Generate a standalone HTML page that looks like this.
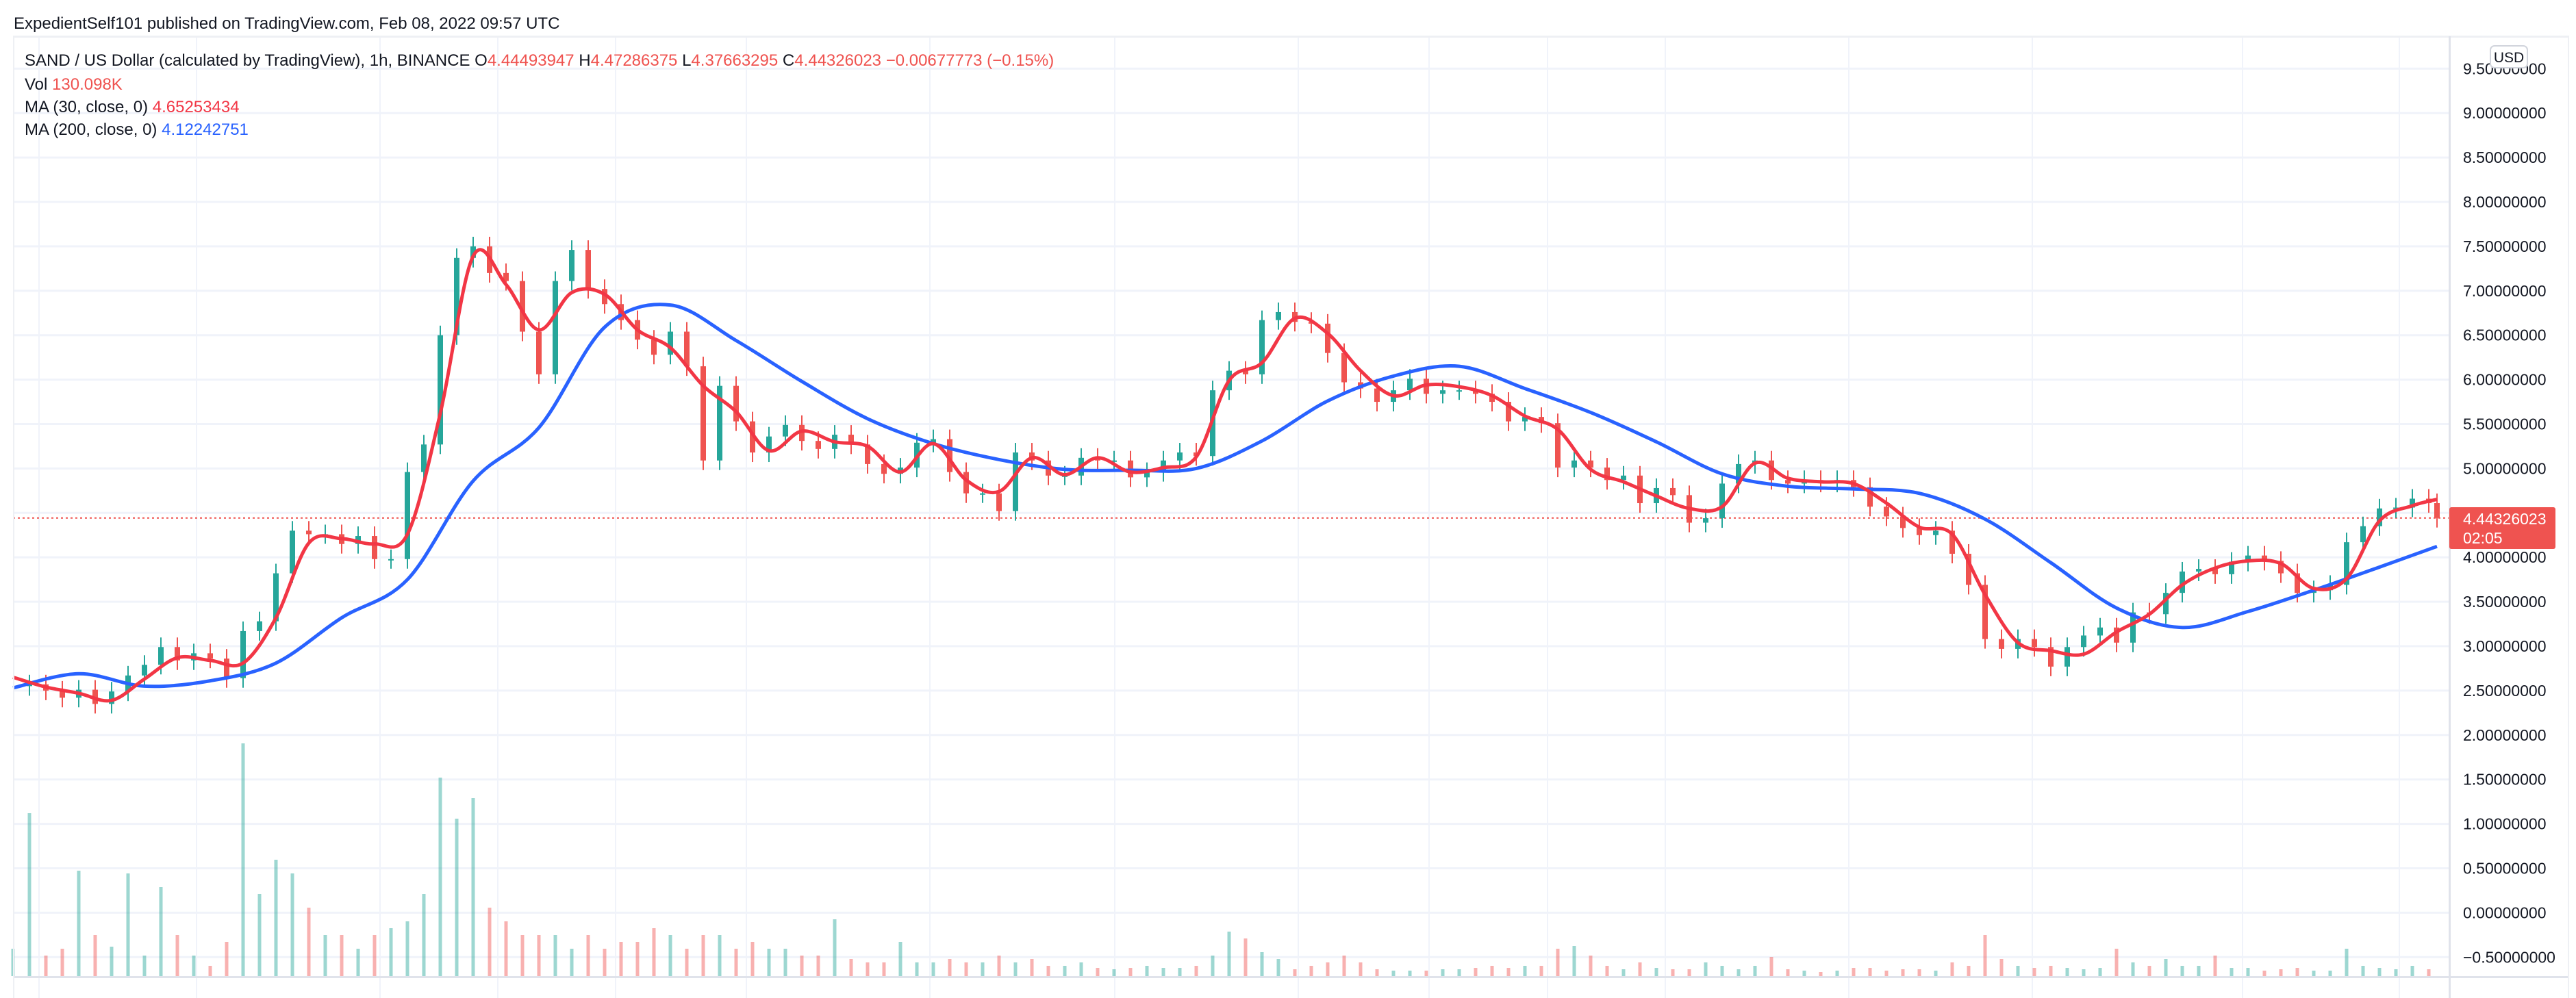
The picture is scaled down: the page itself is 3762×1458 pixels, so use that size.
<!DOCTYPE html>
<html><head><meta charset="utf-8"><style>
html,body{margin:0;padding:0;background:#fff;}
svg{display:block;font-family:"Liberation Sans",sans-serif;}
</style></head><body>
<svg id="chart" width="3762" height="1458" viewBox="0 0 3762 1458" xmlns="http://www.w3.org/2000/svg">
<rect x="0" y="0" width="3762" height="1458" fill="#ffffff"/>
<text x="20" y="42" font-size="24" fill="#131722">ExpedientSelf101 published on TradingView.com, Feb 08, 2022 09:57 UTC</text>
<rect x="19" y="52" width="3733" height="3" fill="#eef0f4"/>
<g id="grid"></g>
<g id="vol"></g>
<line x1="19" x2="3576" y1="756.7" y2="756.7" stroke="#ef5350" stroke-width="2" stroke-dasharray="3,4"/>
<g id="candles"></g>
<path id="ma200" fill="none" stroke="#2962ff" stroke-width="5" stroke-linejoin="round"/>
<path id="ma30" fill="none" stroke="#f23645" stroke-width="5" stroke-linejoin="round"/>
<rect x="19" y="1426" width="3733" height="3" fill="#e0e3eb"/>
<rect x="3576" y="53" width="3" height="1405" fill="#e0e3eb"/>
<rect x="3750" y="53" width="2" height="1405" fill="#eef0f4"/>
<rect x="19" y="53" width="2" height="1405" fill="#eef0f4"/>
<g id="axis"></g>
<g>
<rect x="3637" y="67" width="54" height="32" rx="6" fill="#fff" stroke="#d1d4dc" stroke-width="2"/>
<text x="3664" y="91" font-size="21" text-anchor="middle" fill="#131722">USD</text>
</g>
<g>
<rect x="3577" y="741" width="155" height="61" rx="3" fill="#ef5350"/>
<text x="3597" y="766" font-size="23" fill="#fff">4.44326023</text>
<text x="3597" y="794" font-size="23" fill="#fff">02:05</text>
</g>
<g>
<text x="36" y="96" font-size="24" fill="#131722">SAND / US Dollar (calculated by TradingView), 1h, BINANCE  O<tspan fill="#ef5350">4.44493947</tspan>  H<tspan fill="#ef5350">4.47286375</tspan>  L<tspan fill="#ef5350">4.37663295</tspan>  C<tspan fill="#ef5350">4.44326023</tspan>  <tspan fill="#ef5350">−0.00677773 (−0.15%)</tspan></text>
<text x="36" y="131" font-size="24" fill="#131722">Vol  <tspan fill="#ef5350">130.098K</tspan></text>
<text x="36" y="164" font-size="24" fill="#131722">MA (30, close, 0)  <tspan fill="#f23645">4.65253434</tspan></text>
<text x="36" y="197" font-size="24" fill="#131722">MA (200, close, 0)  <tspan fill="#2962ff">4.12242751</tspan></text>
<text x="37" y="1476" font-size="24" fill="#131722">RSI (14, close)  <tspan fill="#7e57c2">33.95</tspan></text>
</g>
</svg>
<script>
const closeTimesStep = 10; // hours between close samples
const closes = [2.55,2.57,2.50,2.42,2.51,2.35,2.49,2.67,2.79,2.99,2.84,2.92,2.86,2.64,3.17,3.28,3.82,4.30,4.26,4.26,
4.15,4.24,3.98,3.98,4.96,5.27,6.50,7.37,7.50,7.20,7.11,6.54,6.06,7.11,7.46,7.02,6.85,6.67,6.45,6.28,
6.54,6.15,5.09,5.93,5.53,5.18,5.36,5.49,5.31,5.22,5.38,5.27,5.05,4.94,5.01,5.29,5.33,4.96,4.72,4.72,
4.52,5.18,5.09,4.92,4.92,5.12,5.09,5.09,4.90,4.96,5.09,5.18,5.14,5.88,6.10,6.06,6.67,6.76,6.65,6.63,
6.30,5.97,5.90,5.75,5.88,6.01,5.84,5.88,5.88,5.84,5.75,5.53,5.58,5.51,5.01,5.09,5.01,4.87,4.92,4.61,
4.78,4.70,4.39,4.44,4.83,5.05,5.09,4.87,4.83,4.87,4.84,4.87,4.79,4.57,4.46,4.33,4.25,4.30,4.04,3.69,
3.08,2.97,3.08,2.99,2.77,2.99,3.12,3.21,3.04,3.38,3.36,3.60,3.84,3.87,3.81,3.95,4.02,3.96,3.82,3.60,
3.63,3.69,4.17,4.35,4.55,4.56,4.66,4.61];
const lastClose = 4.44326023;
const lastTime = 1475;
const ma30Step = 20;
const ma30 = [2.65,2.54,2.47,2.39,2.63,2.87,2.84,2.81,3.32,4.16,4.21,4.15,4.26,5.62,7.39,7.07,6.56,6.98,6.96,6.56,
6.36,5.93,5.64,5.20,5.42,5.30,5.25,4.96,5.28,4.87,4.74,5.12,4.93,5.12,4.96,5.01,5.13,5.99,6.19,6.69,
6.52,6.10,5.82,5.94,5.92,5.82,5.59,5.44,4.99,4.85,4.69,4.55,4.57,5.06,4.89,4.85,4.83,4.61,4.34,4.26,
3.58,3.04,2.95,2.91,3.16,3.36,3.69,3.88,3.96,3.93,3.65,3.76,4.41,4.58];
const ma30Last = 4.65253434;
const ma200Step = 40;
const ma200 = [2.53,2.69,2.55,2.61,2.81,3.32,3.75,4.86,5.46,6.59,6.84,6.44,5.98,5.56,5.28,5.10,4.99,4.98,5.00,5.31,
5.76,6.04,6.15,5.90,5.63,5.30,4.94,4.80,4.77,4.72,4.43,3.94,3.43,3.21,3.39,3.63,3.89];
const ma200Last = 4.12242751;
const volumes = [400,2380,300,400,1540,600,430,1500,300,1300,600,300,150,500,3400,1200,1700,1500,1000,600,
600,400,600,700,800,1200,2900,2300,2600,1000,800,600,600,600,400,600,400,500,500,700,
600,400,600,600,400,500,400,400,300,300,830,250,200,200,500,200,200,250,200,200,
300,200,250,150,150,200,120,100,120,150,120,120,150,300,650,550,350,250,100,150,
200,300,200,100,80,80,80,100,100,120,150,120,150,150,400,440,300,150,100,200,
120,100,100,200,150,100,150,280,100,80,60,80,120,120,80,100,100,80,200,150,
600,250,150,120,150,120,100,120,400,200,150,250,150,150,300,120,120,80,100,120,
80,80,400,150,120,100,150,100];
const priceTicks = [9.5,9.0,8.5,8.0,7.5,7.0,6.5,6.0,5.5,5.0,4.5,4.0,3.5,3.0,2.5,2.0,1.5,1.0,0.5,0.0,-0.5];
const dateGridX = [57,287,555,727,899,1090,1358,1628,1896,2087,2260,2432,2700,2968,3275,3504];

const NS = "http://www.w3.org/2000/svg";
const xScale = t => 19 + t * 2.4;
const yScale = v => 814.2 - (v - 4) * 129.8;
const volScale = v => 1426 - v * 0.1;
function mk(tag, attrs, parent){const e=document.createElementNS(NS,tag);for(const k in attrs)e.setAttribute(k,attrs[k]);parent.appendChild(e);return e;}

const grid = document.getElementById('grid');
priceTicks.forEach(v=>{
  const l = mk('line',{x1:19,x2:3576,y1:yScale(v),y2:yScale(v),stroke:'#f0f3fa','stroke-width':3},grid);
  
  
});
dateGridX.forEach(x=>{
  const l = mk('line',{x1:x,x2:x,y1:55,y2:1458,stroke:'#f0f3fa','stroke-width':2},grid);
  
  
});

const axis = document.getElementById('axis');
priceTicks.forEach(v=>{
  const t = mk('text',{x:3597,y:yScale(v)+8,'font-size':23,fill:'#131722'},axis);
  t.textContent = (v<0?'−':'') + Math.abs(v).toFixed(8);
  
  
});

const allT = closes.map((c,i)=>i*closeTimesStep).concat([lastTime]);
const allC = closes.concat([lastClose]);

const vol = document.getElementById('vol');
volumes.forEach((v,i)=>{
  const up = i===0 ? true : closes[i] >= closes[i-1];
  const x = xScale(i*closeTimesStep);
  const r = mk('rect',{x:x-2.5,y:volScale(v),width:5,height:1426-volScale(v),fill:up?'#26a69a':'#ef5350','fill-opacity':0.45},vol);
  
  
});

const cg = document.getElementById('candles');
for(let i=1;i<allC.length;i++){
  const o = allC[i-1], c = allC[i];
  const up = c >= o;
  const x = xScale(allT[i]);
  const y1 = yScale(Math.max(o,c)), y2 = yScale(Math.min(o,c));
  const col = up ? '#26a69a' : '#ef5350';
  const w = mk('line',{x1:x,x2:x,y1:y1-14,y2:y2+14,stroke:col,'stroke-width':2},cg);
  
  
  const b = mk('rect',{x:x-4,y:y1,width:8,height:Math.max(2,y2-y1),fill:col},cg);
  
  
}

function linePath(arr, step, lastV){
  const pts = arr.map((v,i)=>[xScale(i*step), yScale(v)]);
  pts.push([xScale(lastTime), yScale(lastV)]);
  let d = 'M'+pts[0][0].toFixed(1)+','+pts[0][1].toFixed(1);
  for(let i=0;i<pts.length-1;i++){
    const p0=pts[Math.max(0,i-1)], p1=pts[i], p2=pts[i+1], p3=pts[Math.min(pts.length-1,i+2)];
    const c1x=p1[0]+(p2[0]-p0[0])/6, c1y=p1[1]+(p2[1]-p0[1])/6;
    const c2x=p2[0]-(p3[0]-p1[0])/6, c2y=p2[1]-(p3[1]-p1[1])/6;
    d += ' C'+c1x.toFixed(1)+','+c1y.toFixed(1)+' '+c2x.toFixed(1)+','+c2y.toFixed(1)+' '+p2[0].toFixed(1)+','+p2[1].toFixed(1);
  }
  return d;
}
document.getElementById('ma30').setAttribute('d', linePath(ma30, ma30Step, ma30Last));
document.getElementById('ma200').setAttribute('d', linePath(ma200, ma200Step, ma200Last));
</script>
</body></html>
